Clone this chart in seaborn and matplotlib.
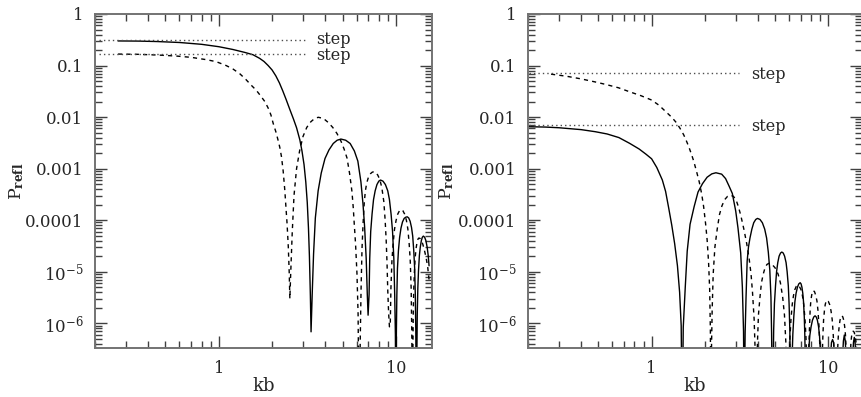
import numpy as np
import pandas as pd
import matplotlib
matplotlib.use("Agg")
import matplotlib.pyplot as plt
import seaborn as sns
from matplotlib.ticker import LogLocator, FixedLocator, FixedFormatter, NullFormatter
from matplotlib.transforms import offset_copy

# ---------------- data ----------------
# Left panel, solid curve
left_solid_x = [0.27, 0.35, 0.45, 0.6, 0.8, 1.0, 1.2, 1.4, 1.56, 1.7, 1.8, 1.9, 2.0, 2.1, 2.2, 2.3, 2.4,
                2.52, 2.64, 2.75, 2.87, 2.95, 3.03, 3.1, 3.16, 3.21, 3.25, 3.29, 3.32,
                3.37, 3.43, 3.51, 3.64, 3.79, 3.98, 4.19, 4.43, 4.66, 4.9,
                5.21, 5.52, 5.83, 6.10, 6.35, 6.52, 6.66, 6.80, 6.90, 6.97,
                7.06, 7.12, 7.21, 7.34, 7.48, 7.64, 7.82, 8.01, 8.19,
                8.46, 8.73, 9.0, 9.2, 9.4, 9.58, 9.74, 9.85, 9.94, 10.0,
                10.07, 10.13, 10.21, 10.34, 10.5, 10.69, 10.9, 11.14, 11.38, 11.6,
                11.82, 12.04, 12.26, 12.45, 12.62, 12.77, 12.88, 12.96, 13.06,
                13.15, 13.21, 13.31, 13.43, 13.58, 13.74, 13.93, 14.11, 14.3,
                14.54, 14.78, 15.02, 15.23, 15.4]
left_solid_y = [0.30, 0.298, 0.292, 0.28, 0.258, 0.232, 0.205, 0.18, 0.162, 0.138, 0.12, 0.10, 0.082, 0.063, 0.046, 0.032, 0.022,
                0.014, 0.0092, 0.0062, 0.0036, 0.0022, 0.0012, 5.5e-4, 2.2e-4, 7e-5, 2e-5, 3.5e-6, 6.8e-7,
                3.7e-6, 2.2e-5, 1.1e-4, 3.7e-4, 8.2e-4, 1.57e-3, 2.3e-3, 3.07e-3, 3.55e-3, 3.74e-3,
                3.55e-3, 3.07e-3, 2.2e-3, 1.4e-3, 5.5e-4, 2.1e-4, 7.5e-5, 1.8e-5, 3.5e-6, 1.43e-6,
                3.6e-6, 1.8e-5, 6e-5, 1.32e-4, 2.5e-4, 3.7e-4, 4.9e-4, 5.7e-4, 6.0e-4,
                5.7e-4, 4.9e-4, 3.7e-4, 2.5e-4, 1.3e-4, 6e-5, 1.8e-5, 3.6e-6, 6e-7, 1e-8,
                7e-7, 3.5e-6, 1.16e-5, 2.55e-5, 4.6e-5, 7e-5, 9.2e-5, 1.08e-4, 1.14e-4, 1.16e-4,
                1.1e-4, 9.5e-5, 7.2e-5, 4.9e-5, 2.55e-5, 1.16e-5, 3.5e-6, 7e-7, 1e-8,
                3e-7, 1.5e-6, 4.9e-6, 1.08e-5, 2.06e-5, 3.0e-5, 4.0e-5, 4.65e-5, 4.9e-5,
                4.65e-5, 4.0e-5, 3.0e-5, 2.06e-5, 1.3e-5]

# Left panel, dashed curve
left_dash_x = [0.27, 0.35, 0.45, 0.573, 0.7, 0.85, 0.966, 1.1, 1.2, 1.31, 1.42, 1.52, 1.63, 1.72, 1.82, 1.9, 1.97,
               2.03, 2.1, 2.16, 2.21, 2.26, 2.31, 2.36, 2.40, 2.43, 2.47, 2.50, 2.52,
               2.55, 2.60, 2.66, 2.75, 2.86, 2.99, 3.14, 3.31, 3.48, 3.65,
               3.9, 4.16, 4.4, 4.65, 4.9, 5.1, 5.3, 5.48, 5.65, 5.75, 5.82, 5.92, 6.03, 6.12, 6.2,
               6.3, 6.36, 6.44, 6.53, 6.62, 6.72, 6.85, 7.01, 7.2, 7.35, 7.5,
               7.7, 7.9, 8.11, 8.33, 8.55, 8.7, 8.82, 8.92, 9.0, 9.1, 9.2,
               9.3, 9.38, 9.5, 9.65, 9.83, 10.03, 10.25, 10.48, 10.7,
               10.96, 11.21, 11.47, 11.69, 11.89, 12.06, 12.2, 12.28, 12.35, 12.4,
               12.48, 12.53, 12.62, 12.73, 12.86, 13.0, 13.17, 13.34, 13.5,
               13.7, 13.95, 14.2, 14.5, 14.8, 15.1, 15.4]
left_dash_y = [0.167, 0.165, 0.16, 0.153, 0.144, 0.13, 0.119, 0.10, 0.086, 0.07, 0.054, 0.042, 0.033, 0.026, 0.02, 0.015, 0.011,
               0.0075, 0.0052, 0.0036, 0.0026, 0.0017, 9e-4, 3.8e-4, 1.6e-4, 8.6e-5, 3e-5, 9.3e-6, 3.0e-6,
               1e-5, 5.9e-5, 3e-4, 1e-3, 2.2e-3, 4.2e-3, 6.3e-3, 8.1e-3, 9.4e-3, 9.9e-3,
               9.4e-3, 7.8e-3, 6.3e-3, 4.8e-3, 3.4e-3, 2.4e-3, 1.6e-3, 8e-4, 3.6e-4, 1.7e-4, 8.6e-5, 3.5e-5, 9.3e-6, 1.5e-6, 1e-8,
               6e-7, 4.4e-6, 2.8e-5, 8.6e-5, 2e-4, 3.6e-4, 5.3e-4, 6.9e-4, 8e-4, 8.5e-4, 8.7e-4,
               8.4e-4, 7.5e-4, 6.2e-4, 4.3e-4, 2.3e-4, 1e-4, 4e-5, 1.4e-5, 4.4e-6, 1.6e-6, 8.5e-7,
               1e-6, 4.8e-6, 1.6e-5, 3.5e-5, 6.7e-5, 9.9e-5, 1.31e-4, 1.52e-4, 1.6e-4,
               1.52e-4, 1.31e-4, 9.9e-5, 6.7e-5, 3.5e-5, 1.6e-5, 4.8e-6, 1e-6, 1.6e-7, 1e-8,
               2.7e-7, 1.35e-6, 4.5e-6, 9.9e-6, 1.9e-5, 2.8e-5, 3.7e-5, 4.3e-5, 4.5e-5,
               4.4e-5, 4e-5, 3.4e-5, 2.6e-5, 1.9e-5, 1.3e-5, 7e-6]

# Right panel, solid curve
right_solid_x = [0.2, 0.25, 0.3, 0.4, 0.48, 0.56, 0.653, 0.75, 0.85, 0.93, 1.0, 1.07, 1.15, 1.2, 1.25, 1.3,
                 1.35, 1.40, 1.44, 1.47, 1.49,
                 1.51, 1.55, 1.59, 1.65, 1.74, 1.83, 1.94, 2.06, 2.19, 2.31,
                 2.49, 2.62, 2.74, 2.86, 2.99, 3.08, 3.19, 3.26, 3.31, 3.34,
                 3.36, 3.38, 3.42, 3.47, 3.53, 3.6, 3.69, 3.78, 3.88, 3.97,
                 4.1, 4.23, 4.36, 4.47, 4.57, 4.66, 4.73, 4.77, 4.83,
                 4.87, 4.9, 4.95, 5.02, 5.09, 5.17, 5.26, 5.36, 5.45,
                 5.55, 5.65, 5.76, 5.84, 5.93, 5.99, 6.05, 6.08, 6.13,
                 6.22, 6.29, 6.37, 6.46, 6.56, 6.68, 6.8, 6.92,
                 7.0, 7.08, 7.16, 7.23, 7.3, 7.35, 7.4, 7.46,
                 7.65, 7.74, 7.85, 7.98, 8.12, 8.26, 8.4,
                 8.53, 8.66, 8.79, 8.9, 9.0, 9.09, 9.26,
                 10.25, 10.4, 10.55, 10.7, 10.85, 11.3,
                 12.0, 12.15, 12.3, 12.45, 12.6, 13.1,
                 13.7, 13.85, 14.0, 14.15, 14.3, 15.0]
right_solid_y = [0.0065, 0.0064, 0.0062, 0.0057, 0.0052, 0.0047, 0.004, 0.0031, 0.0024, 0.0019, 0.00155, 0.00105, 6e-4, 3.6e-4, 1.7e-4, 8e-5,
                 3.5e-5, 1.3e-5, 4e-6, 9e-7, 1e-8,
                 8.3e-7, 5e-6, 2.5e-5, 8.3e-5, 1.83e-4, 3.5e-4, 5.1e-4, 6.8e-4, 7.9e-4, 8.3e-4,
                 7.8e-4, 6.4e-4, 4.6e-4, 3.3e-4, 1.5e-4, 7e-5, 2.3e-5, 5e-6, 7e-7, 1e-8,
                 1.1e-7, 6.5e-7, 3.2e-6, 1.6e-5, 3e-5, 4.5e-5, 6.7e-5, 8.9e-5, 1.03e-4, 1.08e-4,
                 1.03e-4, 8.9e-5, 6.7e-5, 4.5e-5, 2.4e-5, 1.08e-5, 3.2e-6, 6.5e-7, 1e-8,
                 1.4e-7, 7.2e-7, 2.4e-6, 5.3e-6, 1e-5, 1.5e-5, 2e-5, 2.3e-5, 2.4e-5,
                 2.3e-5, 2e-5, 1.5e-5, 1e-5, 5.3e-6, 2.4e-6, 7.2e-7, 1.4e-7, 1e-8,
                 1.8e-7, 6.1e-7, 1.34e-6, 2.6e-6, 3.8e-6, 5e-6, 5.8e-6, 6.1e-6,
                 5.8e-6, 5e-6, 3.8e-6, 2.6e-6, 1.34e-6, 6.1e-7, 1.8e-7, 1e-8,
                 1.4e-7, 3.1e-7, 5.8e-7, 8.6e-7, 1.14e-6, 1.32e-6, 1.39e-6,
                 1.32e-6, 1.14e-6, 8.6e-7, 5.8e-7, 3.1e-7, 1.4e-7, 1e-8,
                 2e-7, 4.2e-7, 4.8e-7, 4.2e-7, 2e-7, 1e-8,
                 2e-7, 4.5e-7, 5.9e-7, 4.5e-7, 2e-7, 1e-8,
                 2e-7, 4.2e-7, 5.3e-7, 4.2e-7, 2e-7, 1e-8]

# Right panel, dashed curve
right_dash_x = [0.27, 0.33, 0.4, 0.48, 0.55, 0.65, 0.75, 0.87, 1.0, 1.1, 1.2, 1.3, 1.38, 1.45, 1.52, 1.57, 1.62,
                1.68, 1.73, 1.8, 1.86, 1.92, 1.97, 2.02, 2.06, 2.1, 2.13, 2.15, 2.16,
                2.18, 2.2, 2.23, 2.28, 2.35, 2.42, 2.5, 2.59, 2.69, 2.78,
                2.9, 3.0, 3.1, 3.2, 3.33, 3.45, 3.56, 3.65, 3.72, 3.8, 3.85, 3.88,
                3.93, 3.97, 4.02, 4.1, 4.18, 4.28, 4.38, 4.49, 4.6,
                4.8, 4.99, 5.19, 5.35, 5.51, 5.64, 5.74, 5.81, 5.9,
                6.0, 6.06, 6.14, 6.24, 6.34, 6.46, 6.58, 6.7,
                6.84, 6.99, 7.13, 7.25, 7.37, 7.46, 7.54, 7.65,
                7.72, 7.76, 7.82, 7.88, 7.95, 8.04, 8.12, 8.2,
                8.34, 8.47, 8.61, 8.72, 8.83, 8.92, 8.99, 9.1,
                9.24, 9.31, 9.39, 9.49, 9.59, 9.7, 9.8,
                9.98, 10.16, 10.34, 10.5, 10.64, 10.76, 11.0,
                11.27, 11.38, 11.5, 11.63, 11.77, 11.9,
                12.05, 12.2, 12.35, 12.48, 12.6, 12.9,
                13.4, 13.53, 13.67, 13.8, 13.98, 14.15, 14.32, 14.46, 15.0]
right_dash_y = [0.068, 0.062, 0.055, 0.048, 0.043, 0.037, 0.031, 0.026, 0.0214, 0.017, 0.0128, 0.0099, 0.0078, 0.006, 0.0045, 0.0035, 0.0027,
                0.0019, 0.0014, 8.5e-4, 5.5e-4, 3.2e-4, 1.8e-4, 8.5e-5, 4.2e-5, 1.5e-5, 4.5e-6, 7e-7, 1e-8,
                3e-7, 1.8e-6, 9e-6, 3e-5, 6.7e-5, 1.28e-4, 1.9e-4, 2.5e-4, 2.9e-4, 3.05e-4,
                2.9e-4, 2.5e-4, 1.8e-4, 1.2e-4, 6.5e-5, 3.5e-5, 1.8e-5, 9e-6, 4e-6, 1.2e-6, 3e-7, 1e-8,
                8.7e-8, 4.4e-7, 1.45e-6, 3.2e-6, 6.1e-6, 9e-6, 1.19e-5, 1.38e-5, 1.45e-5,
                1.38e-5, 1.19e-5, 9e-6, 6.1e-6, 3.2e-6, 1.45e-6, 4.4e-7, 8.7e-8, 1e-8,
                1.65e-7, 5.5e-7, 1.2e-6, 2.3e-6, 3.4e-6, 4.5e-6, 5.2e-6, 5.5e-6,
                5.2e-6, 4.5e-6, 3.4e-6, 2.3e-6, 1.2e-6, 5.5e-7, 1.65e-7, 1e-8,
                1.3e-7, 4.3e-7, 9.5e-7, 1.8e-6, 2.7e-6, 3.5e-6, 4.1e-6, 4.3e-6,
                4.1e-6, 3.5e-6, 2.7e-6, 1.8e-6, 9.5e-7, 4.3e-7, 1.3e-7, 1e-8,
                2.8e-7, 6.2e-7, 1.18e-6, 1.74e-6, 2.3e-6, 2.66e-6, 2.8e-6,
                2.66e-6, 2.3e-6, 1.74e-6, 1.18e-6, 6.2e-7, 2.8e-7, 1e-8,
                3.1e-7, 5.9e-7, 8.7e-7, 1.15e-6, 1.33e-6, 1.4e-6,
                1.33e-6, 1.15e-6, 8.7e-7, 5.9e-7, 3.1e-7, 1e-8,
                4.3e-7, 5.7e-7, 6.7e-7, 7e-7, 6.7e-7, 5.7e-7, 4.3e-7, 2.9e-7, 1e-8]

# step reference levels and their line extents
left_step_levels = [0.31, 0.165]
right_step_levels = [0.072, 0.0070]
left_step_x = [0.212, 3.05]
right_step_x = [0.203, 3.12]
step_label = "step"

ytick_values = [1e-6, 1e-5, 1e-4, 1e-3, 1e-2, 1e-1, 1]
ytick_labels = [r"$10^{-6}$", r"$10^{-5}$", "0.0001", "0.001", "0.01", "0.1", "1"]
xtick_values = [1, 10]
xtick_labels = ["1", "10"]
xlabel = "kb"
ylabel = r"P$_{\mathbf{refl}}$"

# ---------------- figure ----------------
sns.set_style("ticks")
plt.rcParams["font.family"] = ["DejaVu Serif"]
plt.rcParams["mathtext.fontset"] = "dejavuserif"

W, H = 862, 397
fig = plt.figure(figsize=(W / 100, H / 100), dpi=100)
axh = 334 / H
axb = 1 - 348 / H
axL = fig.add_axes([95 / W, axb, 337 / W, axh])
axR = fig.add_axes([528 / W, axb, 333.6 / W, axh])

panels = [
    (axL, left_solid_x, left_solid_y, left_dash_x, left_dash_y, left_step_levels, left_step_x,
     3.55, [0.5, -1.5], 16.0, -0.205),
    (axR, right_solid_x, right_solid_y, right_dash_x, right_dash_y, right_step_levels, right_step_x,
     3.67, [-1.5, -1.5], 15.4, -0.216),
]

for ax, sx, sy, dx, dy, levels, stx, lab_x, offs, xmax, ylab_x in panels:
    ax.set_xscale("log")
    ax.set_yscale("log")
    sns.lineplot(x=sx, y=sy, ax=ax, color="black", lw=1.0, estimator=None, sort=False)
    sns.lineplot(x=dx, y=dy, ax=ax, color="black", lw=1.0, estimator=None, sort=False,
                 linestyle=(0, (3, 3)))
    for lv, off in zip(levels, offs):
        sns.lineplot(x=stx, y=[lv, lv], ax=ax, color="0.3", lw=1.0, estimator=None,
                     sort=False, linestyle=(0, (1, 2.2)))
        tr = offset_copy(ax.transData, fig=fig, x=0, y=off * 0.72, units="points")
        ax.text(lab_x, lv, step_label, va="center", ha="left", fontsize=11.5, transform=tr)
    ax.set_xlim(0.2, xmax)
    ax.set_ylim(3.3e-7, 1)
    ax.xaxis.set_major_locator(FixedLocator(xtick_values))
    ax.xaxis.set_major_formatter(FixedFormatter(xtick_labels))
    ax.xaxis.set_minor_locator(LogLocator(base=10, subs=np.arange(2, 10)))
    ax.xaxis.set_minor_formatter(NullFormatter())
    ax.yaxis.set_major_locator(FixedLocator(ytick_values))
    ax.yaxis.set_major_formatter(FixedFormatter(ytick_labels))
    ax.yaxis.set_minor_locator(LogLocator(base=10, subs=np.arange(2, 10), numticks=30))
    ax.yaxis.set_minor_formatter(NullFormatter())
    ax.tick_params(which="both", direction="in", top=True, right=True, color="0.25", width=1.0)
    ax.tick_params(which="major", length=8.5, pad=8.4)
    ax.tick_params(axis="y", which="major", labelsize=12)
    ax.tick_params(axis="x", which="major", labelsize=11.5)
    ax.tick_params(which="minor", length=5)
    for sp in ax.spines.values():
        sp.set_color("0.45")
        sp.set_linewidth(1.4)
    ax.set_xlabel(xlabel, fontsize=13, labelpad=0)
    ax.set_ylabel(ylabel, fontsize=12.5)
    ax.yaxis.set_label_coords(ylab_x, 0.5)

fig.savefig("out.png", dpi=100)
